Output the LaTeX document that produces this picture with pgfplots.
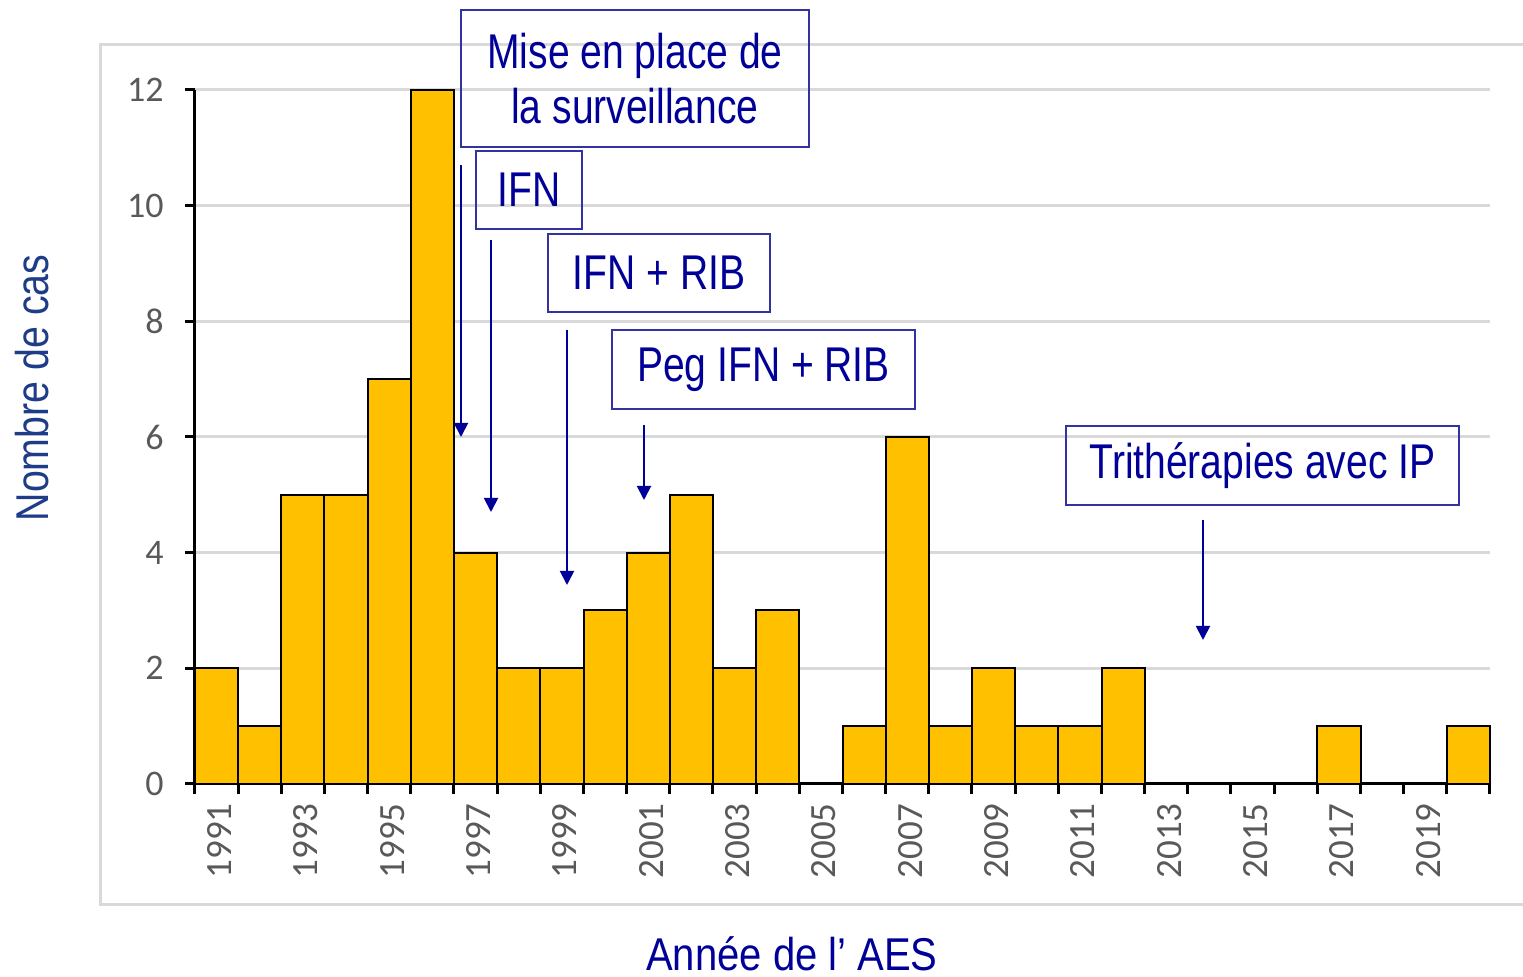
\documentclass[border=0pt]{standalone}
\usepackage{pgfplots}
\pgfplotsset{compat=1.18}
\usepackage{fontspec}
\setmainfont{Liberation Sans}
\newfontfamily\narrowfont{Liberation Sans}[FakeStretch=0.80]
\newfontfamily\yfont{Liberation Sans}[FakeStretch=0.855]
\newfontfamily\axisfont{Liberation Sans}[FakeStretch=0.87]
\newfontfamily\calfont{Carlito}
\usetikzlibrary{arrows.meta}
\definecolor{barfill}{HTML}{FFC000}
\definecolor{gridgray}{HTML}{D9D9D9}
\definecolor{ticklab}{HTML}{595959}
\definecolor{annot}{HTML}{000099}
\definecolor{boxc}{HTML}{3333A0}
\definecolor{ylab}{HTML}{1F3C88}
\begin{document}
\begin{tikzpicture}
\useasboundingbox (0,0) rectangle (761.5pt,488.5pt);
\begin{scope}[x=0.5pt,y=0.5pt]
\draw[gridgray, line width=1.5pt] (1525,932)--(100,932)--(100,72)--(1525,72);
\end{scope}
\begin{axis}[
  at={(97.5pt,96.5pt)}, anchor=south west,
  scale only axis, width=647.5pt, height=347pt,
  xmin=1990.5, xmax=2020.5, ymin=0, ymax=12,
  axis x line=bottom, axis y line=left,
  axis line style={-, black, line width=1.5pt},
  ytick={0,2,...,12},
  xtick={1991,1993,...,2019},
  minor xtick={1990.5,1991.5,...,2020.5},
  ymajorgrids, grid style={gridgray, line width=1.5pt},
  major tick length=5pt, minor tick length=5pt,
  tick align=outside,
  major x tick style={draw=none},
  minor x tick style={black, line width=1.5pt},
  ytick style={black, line width=1.5pt},
  /pgf/number format/assume math mode=true,
  /pgf/number format/1000 sep={},
  xticklabel style={rotate=90, anchor=east, font=\calfont\fontsize{18.5}{18.5}\selectfont, text=ticklab, inner sep=0pt, xshift=-4.5pt, yshift=-1.5pt},
  yticklabel style={font=\calfont\fontsize{18}{18}\selectfont, text=ticklab, inner sep=0pt, xshift=-10.5pt},
  ybar, bar width=1,
  clip=false,
]
\addplot[fill=barfill, draw=black, line width=1pt] coordinates {
(1991,2) (1992,1) (1993,5) (1994,5) (1995,7) (1996,12) (1997,4) (1998,2) (1999,2) (2000,3)
(2001,4) (2002,5) (2003,2) (2004,3) (2005,0) (2006,1) (2007,6) (2008,1) (2009,2) (2010,1)
(2011,1) (2012,2) (2013,0) (2014,0) (2015,0) (2016,0) (2017,1) (2018,0) (2019,0) (2020,1)
};
\end{axis}
\begin{scope}[x=0.5pt,y=0.5pt, every node/.style={font=\narrowfont\fontsize{24.4}{27.5}\selectfont}]
\draw[boxc, line width=1pt] (461,967) rectangle (809,830);
\node[annot, align=center] at (635,898.5) {Mise en place de\\la surveillance};
\draw[boxc, line width=1pt] (476,826) rectangle (582,748);
\node[annot] at (529,787) {IFN};
\draw[boxc, line width=1pt] (548,743) rectangle (770,665);
\node[annot] at (659,704) {IFN + RIB};
\draw[boxc, line width=1pt] (612,647) rectangle (915,568);
\node[annot] at (763.5,607.5) {Peg IFN + RIB};
\draw[boxc, line width=1pt] (1066,551) rectangle (1459,472);
\node[annot] at (1262.5,511.5) {Trithérapies avec IP};
\begin{scope}[annot, line width=1pt, -{Triangle[length=7pt,width=7pt]}]
\draw (461,812)--(461,540);
\draw (491,737)--(491,465);
\draw (567,647)--(567,392);
\draw (644,552)--(644,477);
\draw (1203,457)--(1203,337);
\end{scope}
\node[ylab, rotate=90, anchor=base, font=\yfont\fontsize{23}{23}\selectfont] at (48,589) {Nombre de cas};
\node[annot, anchor=base, inner sep=0pt, font=\axisfont\fontsize{23}{23}\selectfont] at (792,6) {Année de l’ AES};
\end{scope}
\end{tikzpicture}
\end{document}
